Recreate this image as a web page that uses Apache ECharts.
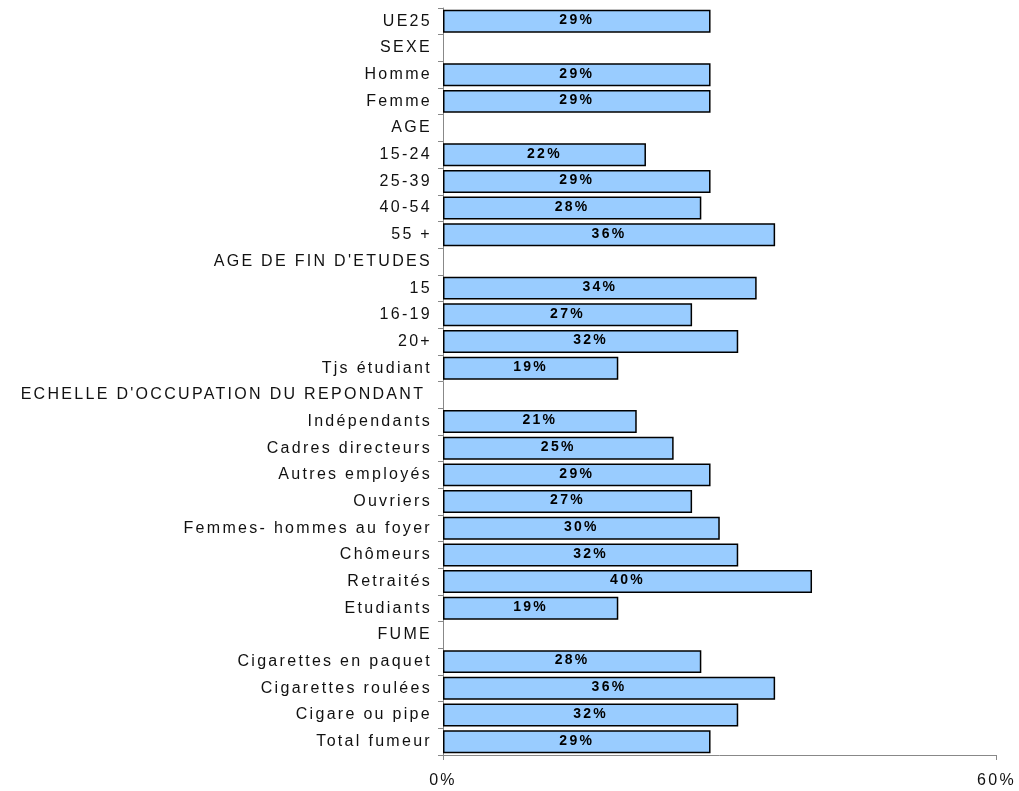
<!DOCTYPE html>
<html>
<head>
<meta charset="utf-8">
<script src="https://cdn.jsdelivr.net/npm/echarts@6/dist/echarts.min.js"></script>
<style>html,body{margin:0;padding:0;background:#fff}#c{width:1019px;height:791px}</style>
</head>
<body>
<div id="c"></div>
<script>
const categories = ["UE25","SEXE","Homme","Femme","AGE","15-24","25-39","40-54","55 +","AGE DE FIN D'ETUDES","15","16-19","20+","Tjs étudiant","ECHELLE D'OCCUPATION DU REPONDANT ","Indépendants","Cadres directeurs","Autres employés","Ouvriers","Femmes- hommes au foyer","Chômeurs","Retraités","Etudiants","FUME","Cigarettes en paquet","Cigarettes roulées","Cigare ou pipe","Total fumeur"];
const values = [29,null,29,29,null,22,29,28,36,null,34,27,32,19,null,21,25,29,27,30,32,40,19,null,28,36,32,29];
const xTicks = [0,60];

// wide character spacing, as in the reference typography
(function(){
  const P = CanvasRenderingContext2D.prototype;
  const LS = '2.3px';
  const f = P.fillText, m = P.measureText;
  P.fillText = function(){ try{this.letterSpacing = LS;}catch(e){} return f.apply(this, arguments); };
  P.measureText = function(){ try{this.letterSpacing = LS;}catch(e){} return m.apply(this, arguments); };
})();

const FONT = 'Liberation Sans';
const chart = echarts.init(document.getElementById('c'));
chart.setOption({
  animation:false,
  grid:{left:443,right:22,top:8,bottom:36,containLabel:false},
  xAxis:{type:'value',min:xTicks[0],max:xTicks[1],interval:xTicks[1]-xTicks[0],
    axisLine:{show:true,lineStyle:{color:'#888',width:1}},
    axisTick:{show:true,length:5,lineStyle:{color:'#888'}},
    splitLine:{show:false},
    axisLabel:{formatter:'{value}%',margin:16,color:'#111',fontFamily:FONT,fontSize:16}},
  yAxis:{type:'category',data:categories,inverse:true,
    axisLine:{show:true,lineStyle:{color:'#888',width:1}},
    axisTick:{show:true,length:5,lineStyle:{color:'#888'}},
    axisLabel:{margin:11,color:'#111',fontFamily:FONT,fontSize:16,interval:0}},
  series:[{type:'bar',data:values,barCategoryGap:'14%',
    itemStyle:{color:'#99CCFF',borderColor:'#000',borderWidth:1.5},
    label:{show:true,position:'inside',offset:[0,-1],formatter:p=>p.value+'%',color:'#000',fontWeight:'bold',fontFamily:FONT,fontSize:14}}]
});
</script>
</body>
</html>
